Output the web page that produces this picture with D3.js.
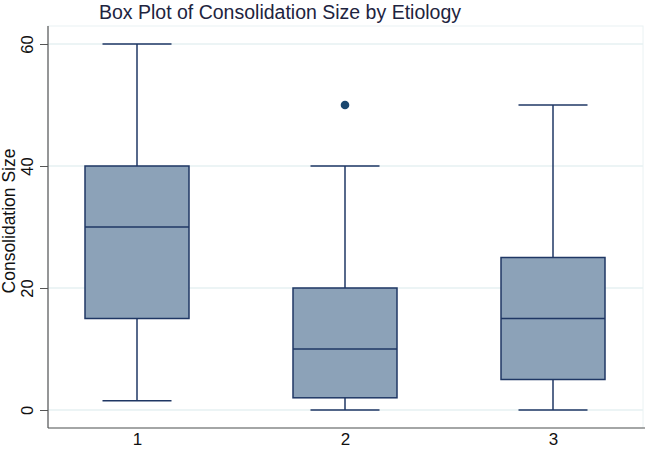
<!DOCTYPE html>
<html><head><meta charset="utf-8">
<script src="https://cdn.jsdelivr.net/npm/d3@7"></script>
<style>body{margin:0;background:#fff;}svg{display:block;}</style>
</head><body>
<svg id="c" width="645" height="452"></svg>
<script>
const categories = ["1","2","3"];
const whiskerLow = [1.5, 0, 0];
const q1 = [15, 2, 5];
const median = [30, 10, 15];
const q3 = [40, 20, 25];
const whiskerHigh = [60, 40, 50];
const outliers = [[], [50], []];
const yTicks = [0, 20, 40, 60];

(function(){
const svg = d3.select("#c");
const pL = 48, pR = 643, pT = 26, pB = 428;
const x = d3.scalePoint().domain(categories).range([137, 553]);
const y = d3.scaleLinear().domain([0, 60]).range([410, 44]);
const boxW = 104, capW = 69;
const stroke = "#1f3764", fill = "#8ca2b8";
const font = "Liberation Sans, Arial, sans-serif";

svg.append("rect").attr("x", pL).attr("y", pT).attr("width", pR-pL).attr("height", pB-pT)
  .attr("fill", "#fff").attr("stroke", "#eaf2f3").attr("stroke-width", 1);

svg.append("g").selectAll("line").data(yTicks).join("line")
  .attr("x1", pL).attr("x2", pR).attr("y1", d=>y(d)).attr("y2", d=>y(d))
  .attr("stroke", "#e6f0f2").attr("stroke-width", 1.5);

const ya = svg.append("g").attr("transform", `translate(${pL},0)`)
  .call(d3.axisLeft(y).tickValues(yTicks).tickSize(8).tickPadding(6));
ya.select(".domain").attr("d", `M0,${pT}V${pB}`).attr("stroke", "#555").attr("stroke-width", 1.2);
ya.selectAll(".tick line").attr("stroke", "#555");
ya.selectAll(".tick text").attr("font-family", font).attr("font-size", 16.5)
  .attr("fill", "#111").attr("text-anchor", "middle")
  .attr("x", 0).attr("y", 0).attr("dy", 0)
  .attr("transform", "translate(-15,0) rotate(-90)");

const xa = svg.append("g").attr("transform", `translate(0,${pB})`)
  .call(d3.axisBottom(x).tickSize(0).tickPadding(5));
xa.select(".domain").attr("d", `M${pL},0H${pR+2}`).attr("stroke", "#555").attr("stroke-width", 1.2);
xa.selectAll(".tick text").attr("font-family", font).attr("font-size", 17).attr("fill", "#111");

const idx = d3.range(categories.length);
const g = svg.append("g");
g.append("g").selectAll("line").data(idx).join("line")
  .attr("x1", i=>x(categories[i])).attr("x2", i=>x(categories[i]))
  .attr("y1", i=>y(whiskerLow[i])).attr("y2", i=>y(q1[i]))
  .attr("stroke", stroke).attr("stroke-width", 1.5);
g.append("g").selectAll("line").data(idx).join("line")
  .attr("x1", i=>x(categories[i])).attr("x2", i=>x(categories[i]))
  .attr("y1", i=>y(whiskerHigh[i])).attr("y2", i=>y(q3[i]))
  .attr("stroke", stroke).attr("stroke-width", 1.5);
[whiskerLow, whiskerHigh].forEach(arr => {
  g.append("g").selectAll("line").data(idx).join("line")
    .attr("x1", i=>x(categories[i])-capW/2).attr("x2", i=>x(categories[i])+capW/2)
    .attr("y1", i=>y(arr[i])).attr("y2", i=>y(arr[i]))
    .attr("stroke", stroke).attr("stroke-width", 1.5);
});
g.append("g").selectAll("rect").data(idx).join("rect")
  .attr("x", i=>x(categories[i])-boxW/2).attr("width", boxW)
  .attr("y", i=>y(q3[i])).attr("height", i=>y(q1[i])-y(q3[i]))
  .attr("fill", fill).attr("stroke", stroke).attr("stroke-width", 1.5);
g.append("g").selectAll("line").data(idx).join("line")
  .attr("x1", i=>x(categories[i])-boxW/2).attr("x2", i=>x(categories[i])+boxW/2)
  .attr("y1", i=>y(median[i])).attr("y2", i=>y(median[i]))
  .attr("stroke", stroke).attr("stroke-width", 1.5);
const outPts = idx.flatMap(i => outliers[i].map(v => ({c: categories[i], v})));
g.append("g").selectAll("circle").data(outPts).join("circle")
  .attr("cx", d=>x(d.c)).attr("cy", d=>y(d.v)).attr("r", 4.3).attr("fill", "#1a476f");

svg.append("text").attr("x", 280).attr("y", 18.5).attr("text-anchor", "middle")
  .attr("font-family", font).attr("font-size", 19.5).attr("fill", "#1e2440")
  .text("Box Plot of Consolidation Size by Etiology");
svg.append("text").attr("transform", `translate(15,221) rotate(-90)`).attr("text-anchor", "middle")
  .attr("font-family", font).attr("font-size", 17.5).attr("fill", "#111")
  .text("Consolidation Size");
})();
</script>
</body></html>
